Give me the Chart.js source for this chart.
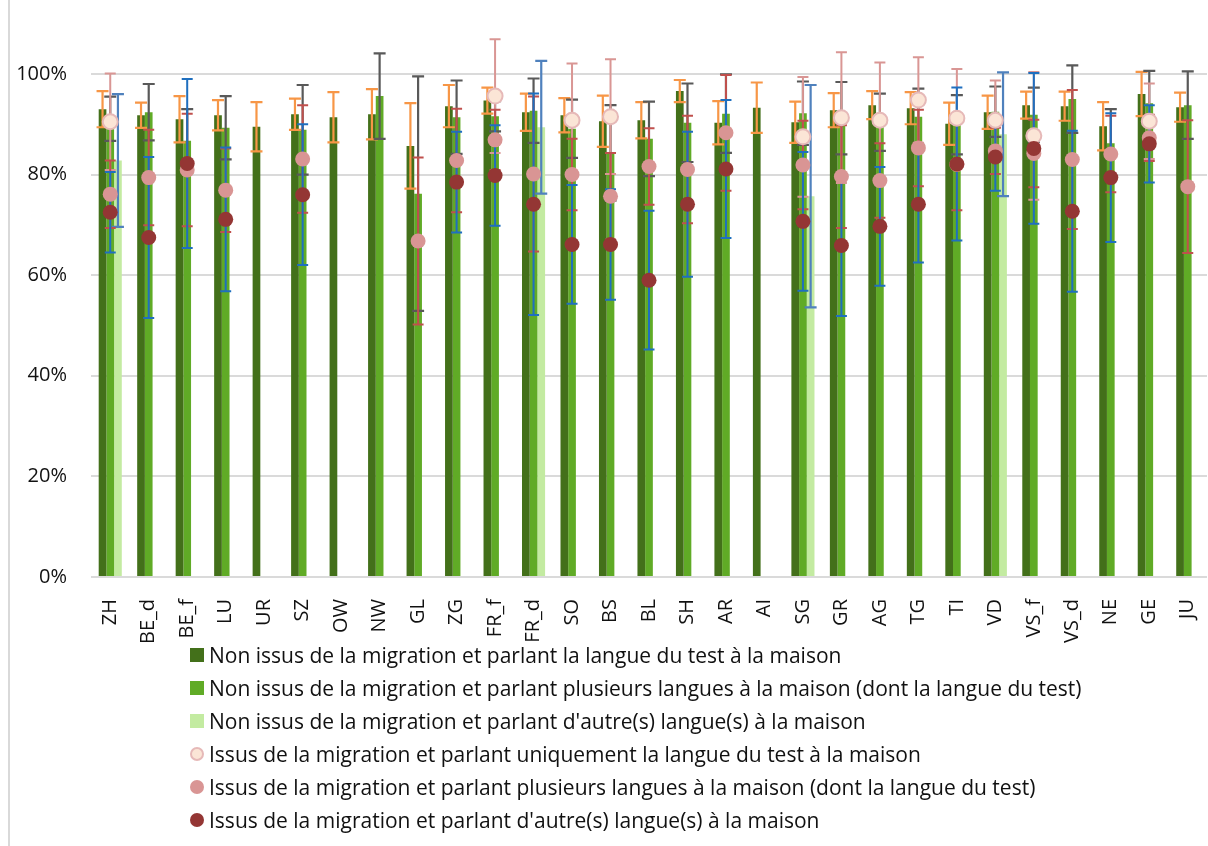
<!DOCTYPE html>
<html>
<head>
<meta charset="utf-8">
<script src="https://cdn.jsdelivr.net/npm/chart.js@4.4.1/dist/chart.umd.min.js"></script>
<style>
  body { margin: 0; background: #fff; }
  #wrap { position: relative; width: 1208px; height: 846px; font-family: 'Open Sans', sans-serif; }
  #frame { position: absolute; left: 8px; top: 0; width: 0; height: 846px; border-left: 2px solid #d9d9d9; }
  #legend { position: absolute; left: 190px; top: 638px; }
  #legend .row { height: 33px; display: flex; align-items: center; font-size: 21px; color: #111; white-space: nowrap; }
  #legend .mark { width: 14px; height: 14px; margin-right: 5px; box-sizing: border-box; }
</style>
</head>
<body>
<div id="wrap">
  <div id="frame"></div>
  <canvas id="chart" width="1208" height="846"></canvas>
  <div id="legend"></div>
</div>
<script>
// cantons / language regions
var categories = ['ZH', 'BE_d', 'BE_f', 'LU', 'UR', 'SZ', 'OW', 'NW', 'GL', 'ZG', 'FR_f', 'FR_d', 'SO', 'BS', 'BL',
  'SH', 'AR', 'AI', 'SG', 'GR', 'AG', 'TG', 'TI', 'VD', 'VS_f', 'VS_d', 'NE', 'GE', 'JU'];

var seriesLabels = [
  'Non issus de la migration et parlant la langue du test à la maison',
  'Non issus de la migration et parlant plusieurs langues à la maison (dont la langue du test)',
  "Non issus de la migration et parlant d'autre(s) langue(s) à la maison",
  'Issus de la migration et parlant uniquement la langue du test à la maison',
  'Issus de la migration et parlant plusieurs langues à la maison (dont la langue du test)',
  "Issus de la migration et parlant d'autre(s) langue(s) à la maison"
];

// shares in %, with +/- confidence interval
var nonMigTest = [93.0, 91.8, 91.0, 91.8, 89.5, 92.0, 91.4, 92.0, 85.7, 93.6, 94.7, 92.4, 91.8, 90.6, 90.8,
  96.6, 90.3, 93.3, 90.4, 92.8, 93.8, 93.2, 90.1, 92.4, 93.8, 93.6, 89.6, 96.0, 93.4];
var nonMigTestErr = [3.6, 2.5, 4.6, 3.0, 4.9, 3.1, 5.0, 5.0, 8.5, 4.2, 2.6, 3.7, 3.4, 5.1, 3.6,
  2.2, 4.3, 5.0, 4.1, 3.4, 2.8, 3.2, 4.2, 3.3, 2.7, 2.9, 4.8, 4.4, 2.9];

var nonMigMulti = [91.1, 92.4, 86.7, 89.3, null, 88.9, null, 95.6, 76.2, 91.4, 91.6, 92.7, 89.1, 84.3, 87.1,
  90.3, 92.1, null, 92.2, 91.2, 90.4, 91.5, 89.9, 92.5, 91.9, 95.0, 86.2, 94.2, 93.8];
var nonMigMultiErr = [4.4, 5.6, 6.3, 6.3, null, 8.9, null, 8.5, 23.3, 7.3, 3.0, 6.4, 5.8, 9.5, 7.4,
  7.8, 7.8, null, 6.3, 7.2, 5.7, 5.6, 5.9, 5.0, 5.4, 6.7, 6.8, 6.4, 6.7];

var nonMigOther = [82.8, null, null, null, null, null, null, null, null, null, null, 89.4, null, null, null,
  null, null, null, 75.7, null, null, null, null, 88.0, null, null, null, null, null];
var nonMigOtherErr = [13.2, null, null, null, null, null, null, null, null, null, null, 13.2, null, null, null,
  null, null, null, 22.1, null, null, null, null, 12.3, null, null, null, null, null];

var migTest = [90.5, null, null, null, null, null, null, null, null, null, 95.6, null, 90.8, 91.5, null,
  null, null, null, 87.5, 91.3, 90.8, 94.8, 91.2, 90.8, 87.7, null, null, 90.6, null];
var migTestErr = [9.6, null, null, null, null, null, null, null, null, null, 11.3, null, 11.3, 11.4, null,
  null, null, null, 11.9, 13.0, 11.5, 8.5, 9.8, 7.9, 12.7, null, null, 7.5, null];

var migMulti = [76.1, 79.4, 80.9, 76.9, null, 83.1, null, null, 66.8, 82.8, 86.9, 80.1, 80.0, 75.7, 81.6,
  81.0, 88.3, null, 81.9, 79.6, 78.8, 85.3, 82.0, 84.7, 84.2, 83.0, 84.1, 87.3, 77.6];
var migMultiErr = [6.7, 9.5, 11.2, 8.3, null, 10.7, null, null, 16.6, 10.3, 6.0, 15.4, 7.1, 8.6, 7.6,
  10.7, 11.5, null, 8.8, 10.2, 7.4, 7.6, 9.1, 4.6, 6.7, 13.8, 7.6, 4.6, 13.2];

var migOther = [72.5, 67.5, 82.2, 71.1, null, 76.0, null, null, null, 78.5, 79.8, 74.1, 66.1, 66.1, 59.0,
  74.1, 81.1, null, 70.7, 65.9, 69.7, 74.1, 82.1, 83.5, 85.2, 72.7, 79.4, 86.1, null];
var migOtherErr = [8.0, 16.0, 16.8, 14.3, null, 14.0, null, null, null, 10.0, 10.0, 22.0, 11.8, 11.0, 13.8,
  14.4, 13.7, null, 13.8, 14.0, 11.8, 11.6, 15.2, 6.7, 15.0, 16.0, 12.8, 7.7, null];

var font = { family: "'Open Sans', sans-serif", size: 20 };

// draws the +/- whiskers of every dataset, right after the bars
var errorBars = {
  id: 'errorBars',
  afterDatasetDraw: function (chart, args) {
    if (args.index !== 0) { return; }
    var ctx = chart.ctx;
    var y = chart.scales.y;
    ctx.save();
    chart.data.datasets.forEach(function (ds, i) {
      var meta = chart.getDatasetMeta(i);
      var st = ds.err;
      ctx.strokeStyle = st.color;
      ctx.lineWidth = st.width;
      ds.data.forEach(function (v, j) {
        var e = ds.errors[j];
        if (v == null || e == null) { return; }
        var x = meta.data[j].x;
        var top = y.getPixelForValue(v + e);
        var bot = y.getPixelForValue(v - e);
        ctx.beginPath();
        ctx.moveTo(x, top); ctx.lineTo(x, bot);
        ctx.moveTo(x - st.cap, top); ctx.lineTo(x + st.cap, top);
        ctx.moveTo(x - st.cap, bot); ctx.lineTo(x + st.cap, bot);
        ctx.stroke();
      });
    });
    ctx.restore();
  }
};

function barSet(i, data, errors, color, errColor) {
  return {
    type: 'bar', label: seriesLabels[i], data: data, errors: errors,
    backgroundColor: color, order: 10,
    err: { color: errColor, width: 2.2, cap: 6 }
  };
}

function pointSet(i, data, errors, fill, border, errColor, order) {
  return {
    type: 'line', label: seriesLabels[i], data: data, errors: errors, showLine: false,
    pointRadius: 7.5, pointHoverRadius: 7.5, pointBackgroundColor: fill,
    pointBorderColor: border, pointBorderWidth: border ? 2 : 0, order: order,
    err: { color: errColor, width: 2, cap: 5.5 }
  };
}

var datasets = [
  barSet(0, nonMigTest, nonMigTestErr, '#43701a', '#f79646'),
  barSet(1, nonMigMulti, nonMigMultiErr, '#60ab26', '#595959'),
  barSet(2, nonMigOther, nonMigOtherErr, '#c3eba1', '#4f81bd'),
  pointSet(3, migTest, migTestErr, '#fbe5d6', '#e6b9b8', '#d99694', 3),
  pointSet(4, migMulti, migMultiErr, '#d99594', null, '#c0504d', 2),
  pointSet(5, migOther, migOtherErr, '#943634', null, '#1f6fbf', 1)
];

var chart = new Chart(document.getElementById('chart'), {
  type: 'bar',
  data: { labels: categories, datasets: datasets },
  options: {
    responsive: false,
    devicePixelRatio: 1,
    animation: false,
    layout: { autoPadding: false, padding: { left: 0, right: 1, top: 0, bottom: 200 } },
    datasets: { bar: { categoryPercentage: 0.6, barPercentage: 1.0 } },
    plugins: { legend: { display: false }, tooltip: { enabled: false } },
    scales: {
      x: {
        grid: { display: false },
        border: { display: false },
        ticks: { font: font, color: '#111', minRotation: 90, maxRotation: 90, autoSkip: false, padding: 14 },
        afterFit: function (s) {
          s.height = 69;
          s.paddingLeft = 0; s.paddingRight = 0;
        }
      },
      y: {
        min: 0,
        max: 114.7,
        border: { display: false },
        grid: { color: '#dadada', lineWidth: 2, drawTicks: false },
        ticks: { stepSize: 20, font: font, color: '#111', padding: 24,
          callback: function (v) { return v + '%'; } },
        afterBuildTicks: function (s) {
          s.ticks = s.ticks.filter(function (t) { return t.value % 20 === 0 && t.value <= 100; });
        },
        afterFit: function (s) {
          s.width = 91;
          s.paddingTop = 0; s.paddingBottom = 0;
        }
      }
    }
  },
  plugins: [errorBars]
});

// legend, one entry per line
var legend = document.getElementById('legend');
datasets.forEach(function (ds, i) {
  var row = document.createElement('div');
  row.className = 'row';
  var mark = document.createElement('span');
  mark.className = 'mark';
  if (ds.type === 'bar') {
    mark.style.background = ds.backgroundColor;
  } else {
    mark.style.borderRadius = '50%';
    mark.style.background = ds.pointBackgroundColor;
    if (ds.pointBorderColor) { mark.style.border = '2px solid ' + ds.pointBorderColor; }
  }
  row.appendChild(mark);
  row.appendChild(document.createTextNode(ds.label));
  legend.appendChild(row);
});
</script>
</body>
</html>
